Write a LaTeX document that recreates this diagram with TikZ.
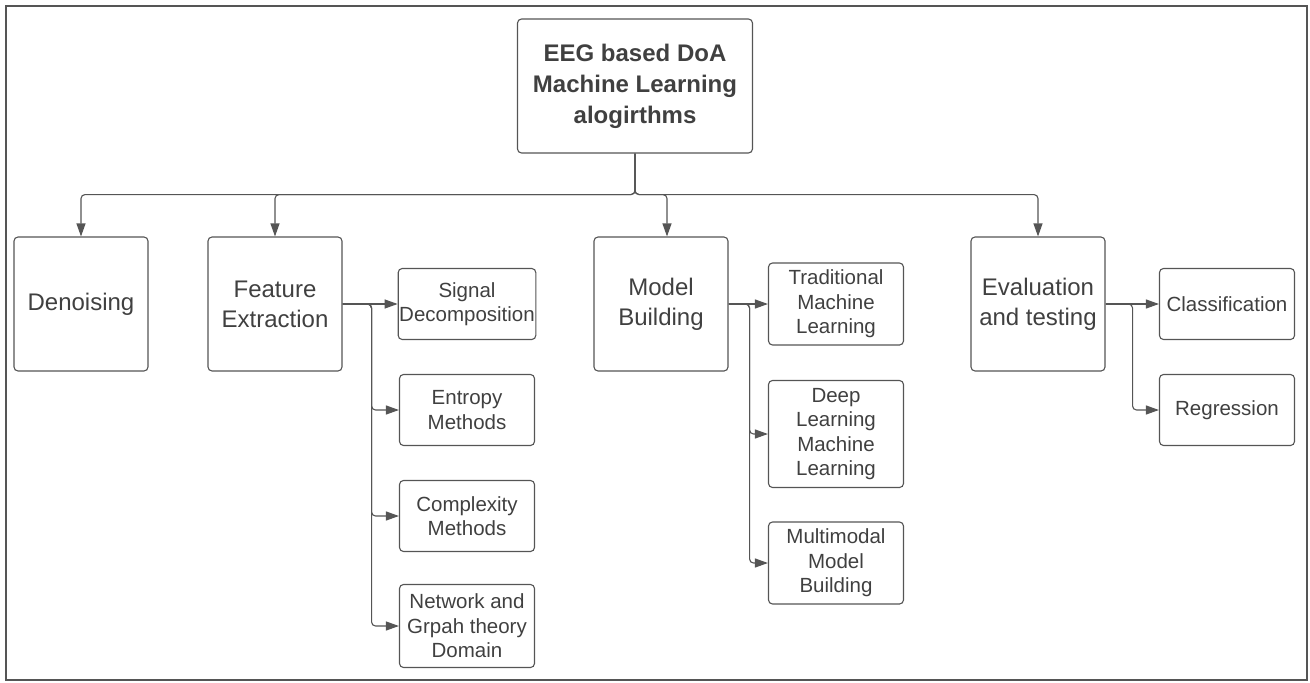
\documentclass[tikz,border=0pt]{standalone}
\usepackage{fontspec}
\setmainfont{Liberation Sans}
\usetikzlibrary{arrows.meta}
\definecolor{linegray}{HTML}{555555}
\definecolor{textgray}{HTML}{404040}
\begin{document}
\begin{tikzpicture}[x=1pt,y=-1pt,
    box/.style={draw=linegray,line width=1.1pt,rounded corners=4pt,align=center,
      text=textgray,inner sep=1pt},
    topbox/.style={box,minimum width=235pt,minimum height=134pt,
      font=\fontsize{24}{31}\selectfont\bfseries},
    stagebox/.style={box,minimum width=134pt,minimum height=134pt,
      font=\fontsize{24}{30}\selectfont},
    subbox/.style={box,minimum width=135pt,font=\fontsize{20.5}{24.5}\selectfont},
    link/.style={draw=linegray,line width=1.1pt,rounded corners=4pt,
      -{Triangle[length=13pt,width=9pt]}}]
    \useasboundingbox (0,0) rectangle (1310,683);
    \draw[draw=linegray,line width=2.5pt] (6,6) rectangle (1307,680);
    \node[topbox] (root) at (635,86) {EEG based DoA\\Machine Learning\\alogirthms};
    \node[stagebox] (den) at (81,304) {Denoising};
    \node[stagebox] (feat) at (275,304) {Feature\\Extraction};
    \node[stagebox] (model) at (661,304) {Model\\Building};
    \node[stagebox] (eval) at (1038,304) {Evaluation\\and testing};
    \node[subbox,minimum height=71pt] (sig) at (467,304) {Signal\\Decomposition};
    \node[subbox,minimum height=71pt] (ent) at (467,410) {Entropy\\Methods};
    \node[subbox,minimum height=71pt] (comp) at (467,516) {Complexity\\Methods};
    \node[subbox,minimum height=83pt] (net) at (467,626) {Network and\\Grpah theory\\Domain};
    \node[subbox,minimum height=82pt] (trad) at (836,304) {Traditional\\Machine\\Learning};
    \node[subbox,minimum height=107pt] (deep) at (836,434) {Deep\\Learning\\Machine\\Learning};
    \node[subbox,minimum height=82pt] (multi) at (836,563) {Multimodal\\Model\\Building};
    \node[subbox,minimum height=71pt] (cls) at (1227,304) {Classification};
    \node[subbox,minimum height=71pt] (reg) at (1227,410) {Regression};
    \draw[link] (root.south) -- ++(0,41) -| (den.north);
    \draw[link] (root.south) -- ++(0,41) -| (feat.north);
    \draw[link] (root.south) -- ++(0,41) -| ([xshift=6pt]model.north);
    \draw[link] (root.south) -- ++(0,41) -| (eval.north);
    \draw[link] (feat.east) -- (sig.west);
    \draw[link] (feat.east) -- ++(29,0) |- (ent.west);
    \draw[link] (feat.east) -- ++(29,0) |- (comp.west);
    \draw[link] (feat.east) -- ++(29,0) |- (net.west);
    \draw[link] (model.east) -- (trad.west);
    \draw[link] (model.east) -- ++(21,0) |- (deep.west);
    \draw[link] (model.east) -- ++(21,0) |- (multi.west);
    \draw[link] (eval.east) -- (cls.west);
    \draw[link] (eval.east) -- ++(27,0) |- (reg.west);
  \end{tikzpicture}
\end{document}
